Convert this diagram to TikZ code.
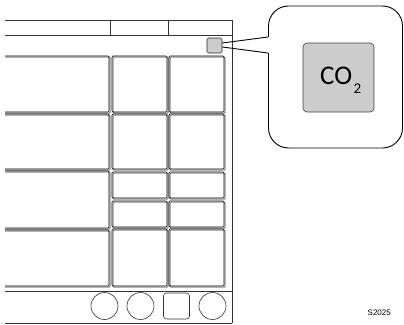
\documentclass[tikz,border=0pt]{standalone}
\usepackage{fontspec}
\newfontfamily\gasfont{Carlito}
\newfontfamily\codefont{Liberation Sans}
\usetikzlibrary{positioning}

\tikzset{
  rule/.style={draw=black!80, line width=0.8pt},
  cell/.style={draw=black, line width=0.6pt, rounded corners=1pt},
  cellshadow/.style={draw=black!45, line width=1.2pt, rounded corners=1pt},
  knob/.style={circle, draw=black!80, line width=0.6pt, minimum size=27pt, inner sep=0pt},
  lamp/.style={draw=black!85, fill=black!20, line width=0.7pt, rounded corners=1.5pt, minimum size=15pt, inner sep=0pt},
}

\begin{document}
\begin{tikzpicture}[x=1pt,y=-1pt]
	\useasboundingbox (0,0) rectangle (404,324);
	\begin{scope}
		\clip (5,0) rectangle (404,324);
		% frame
		\draw[rule] (-5,20) -- (232,20) -- (232,323);
		\draw[rule] (-5,35) -- (232,35);
		\draw[rule] (110,20) -- (110,35);
		\draw[rule] (168,20) -- (168,35);
		\draw[rule] (-5,291) -- (232,291);
		\draw[rule] (-5,323) -- (232,323);
		% panels
		\foreach \x/\y/\X/\Y in {-5/56/109/112, -5/114/109/169, -5/171/109/228, -5/230/109/286,
			112/56/167/112, 112/114/167/169, 112/172/167/198, 112/201/167/227, 112/229/167/286,
			169/56/224/112, 169/114/224/169, 169/172/224/198, 169/201/224/227, 169/229/224/286} {
			\draw[cellshadow] ([shift={(1.1,1.1)}]\x,\y) rectangle ([shift={(1.1,1.1)}]\X,\Y);
			\draw[cell] (\x,\y) rectangle (\X,\Y);
		}
	\end{scope}
	% buttons
	\foreach \x/\n in {104.5/k1, 140.5/k2, 212.5/k4} {\node[knob] (\n) at (\x,306) {};}
	\node[knob, rectangle, rounded corners=3pt, minimum size=26pt] (k3) at (176.5,306) {};
	% sensor and callout
	\node[lamp] (sensor) at (214.5,45.5) {};
	\node[draw=black, line width=0.9pt, rounded corners=20pt, minimum width=134pt, minimum height=142pt] (zoom) at (335.5,77) {};
	\coordinate (pa) at (268,37);
	\coordinate (pb) at (268,53);
	\fill[white] ([xshift=-1.5pt]pa) rectangle ([xshift=1.5pt]pb);
	\draw[line width=0.9pt] ([yshift=2.5pt]sensor.east) -- (pa);
	\draw[line width=0.9pt] ([yshift=-1.5pt]sensor.east) -- (pb);
	\node[draw=black!75, fill=black!20, line width=0.6pt, rounded corners=4pt, minimum width=71pt, minimum height=69pt] (gas) at (338.5,77.5) {};
	\node[anchor=base west, inner sep=0pt, font=\gasfont\fontsize{27}{29}\selectfont] (co2) at (320,84)
		{CO\kern1.5pt\raisebox{-9pt}{\fontsize{15}{15}\selectfont 2}};
	\node[anchor=base east, inner sep=0pt, font=\codefont\fontsize{8}{9}\selectfont] (code) at (391,315) {S2025};
\end{tikzpicture}
\end{document}
